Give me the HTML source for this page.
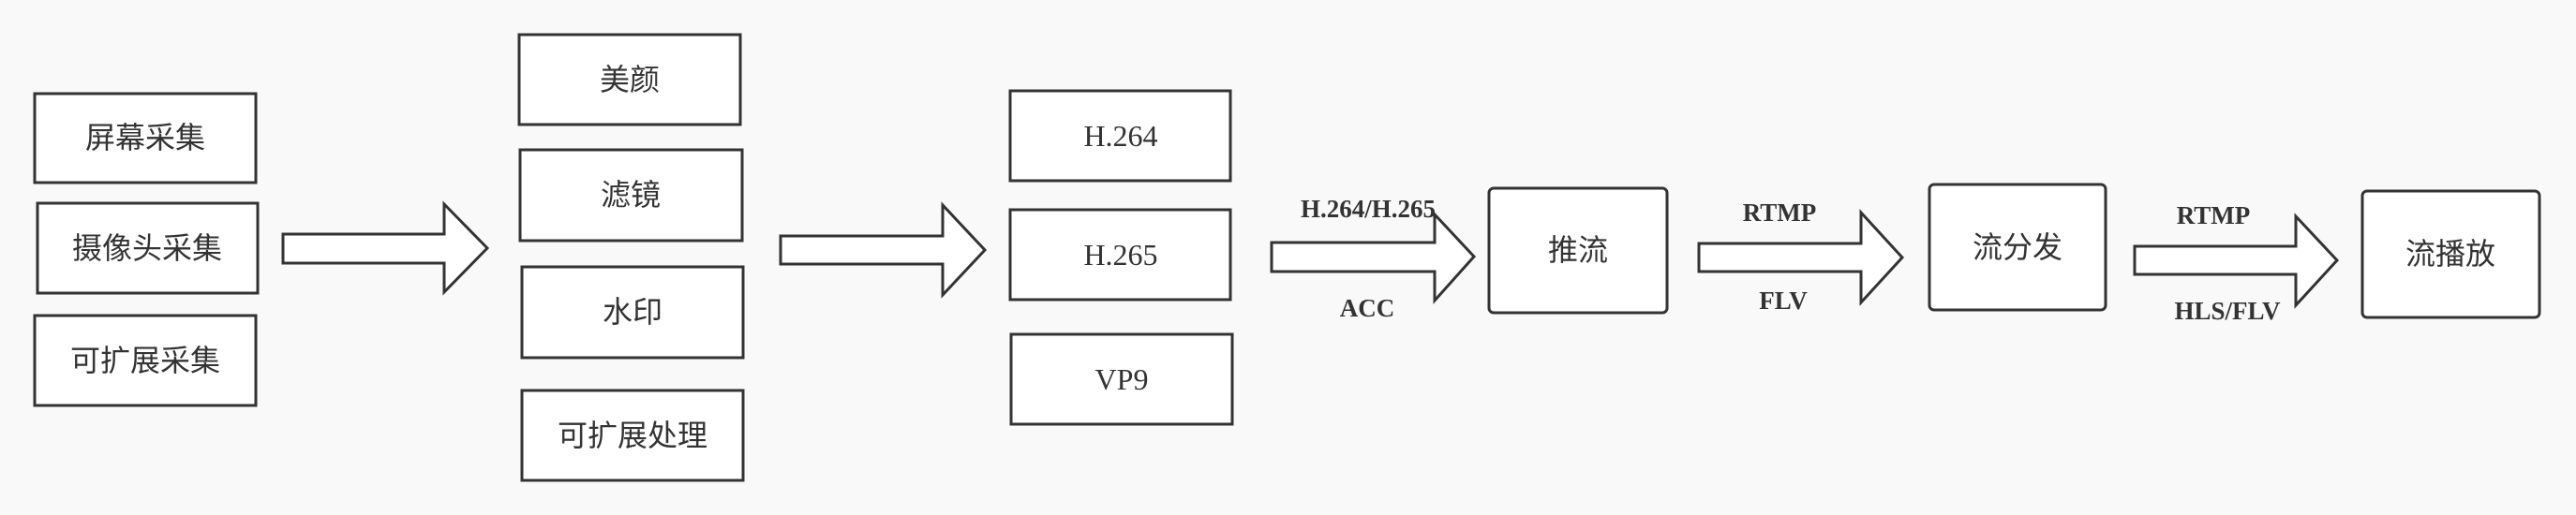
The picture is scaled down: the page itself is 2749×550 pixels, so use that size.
<!DOCTYPE html>
<html><head><meta charset="utf-8"><style>
html,body{margin:0;padding:0;background:#f9f9f9;}
svg{display:block}
.b{fill:#fff;stroke:#333;stroke-width:3}
.c{font-family:"Liberation Sans","Noto Sans CJK SC",sans-serif;font-size:32px;fill:#333;text-anchor:middle;dominant-baseline:central}
.l{font-family:"Liberation Serif",serif;font-size:32px;fill:#333;text-anchor:middle;dominant-baseline:central}
.t{font-family:"Liberation Serif",serif;font-weight:bold;font-size:27px;fill:#333;text-anchor:middle}
</style></head><body>
<svg width="2749" height="550" viewBox="0 0 2749 550" xmlns="http://www.w3.org/2000/svg">
<rect width="2749" height="550" fill="#f9f9f9"/>
<!-- column 1 -->
<rect class="b" x="37" y="100" width="236" height="95"/><text class="c" x="155" y="147">屏幕采集</text>
<rect class="b" x="40" y="217" width="235" height="96"/><text class="c" x="157" y="265">摄像头采集</text>
<rect class="b" x="37" y="337" width="236" height="96"/><text class="c" x="155" y="385">可扩展采集</text>
<!-- arrow 1 -->
<polygon class="b" points="302,250 474,250 474,218 520,265 474,312 474,281 302,281"/>
<!-- column 2 -->
<rect class="b" x="554" y="37" width="236" height="96"/><text class="c" x="672" y="85">美颜</text>
<rect class="b" x="555" y="160" width="237" height="97"/><text class="c" x="673" y="208">滤镜</text>
<rect class="b" x="557" y="285" width="236" height="97"/><text class="c" x="675" y="333">水印</text>
<rect class="b" x="557" y="417" width="236" height="96"/><text class="c" x="675" y="465">可扩展处理</text>
<!-- arrow 2 -->
<polygon class="b" points="833,252 1006,252 1006,219 1051,267 1006,315 1006,282 833,282"/>
<!-- column 3 -->
<rect class="b" x="1078" y="97" width="235" height="96"/><text class="l" x="1196" y="145">H.264</text>
<rect class="b" x="1078" y="224" width="235" height="96"/><text class="l" x="1196" y="272">H.265</text>
<rect class="b" x="1079" y="357" width="236" height="96"/><text class="l" x="1197" y="405">VP9</text>
<!-- arrow 3 -->
<polygon class="b" points="1357,259 1531,259 1531,229 1573,274 1531,321 1531,290 1357,290"/>
<text class="t" x="1460" y="232">H.264/H.265</text>
<text class="t" x="1459" y="338">ACC</text>
<rect class="b" x="1589" y="201" width="190" height="133" rx="5"/><text class="c" x="1684" y="267">推流</text>
<!-- arrow 4 -->
<polygon class="b" points="1813,260 1986,260 1986,227 2030,275 1986,323 1986,290 1813,290"/>
<text class="t" x="1899" y="236">RTMP</text>
<text class="t" x="1903" y="330">FLV</text>
<rect class="b" x="2059" y="197" width="188" height="134" rx="5"/><text class="c" x="2153" y="264">流分发</text>
<!-- arrow 5 -->
<polygon class="b" points="2278,263 2450,263 2450,231 2494,278 2450,326 2450,293 2278,293"/>
<text class="t" x="2362" y="239">RTMP</text>
<text class="t" x="2377" y="341">HLS/FLV</text>
<rect class="b" x="2521" y="204" width="189" height="135" rx="5"/><text class="c" x="2615" y="271">流播放</text>
</svg>
</body></html>
